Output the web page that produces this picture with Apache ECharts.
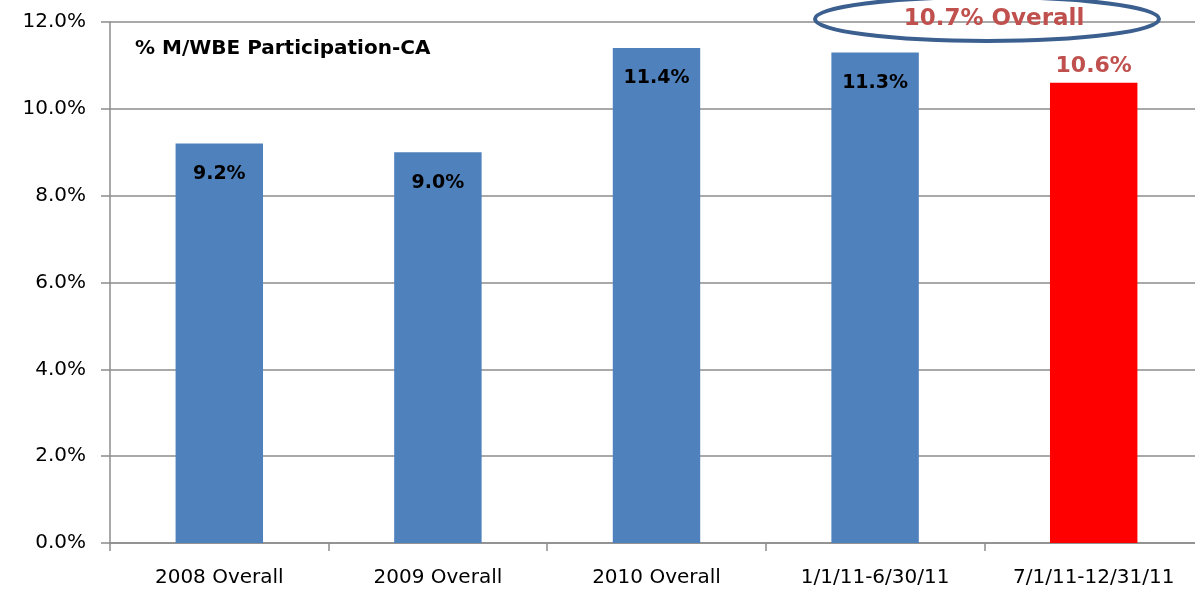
<!DOCTYPE html>
<html>
<head>
<meta charset="utf-8">
<title>% M/WBE Participation-CA</title>
<script src="https://cdn.jsdelivr.net/npm/echarts@6/dist/echarts.min.js"></script>
<style>
  html, body { margin: 0; padding: 0; background: #fff; }
  #chart { width: 1195px; height: 595px; }
</style>
</head>
<body>
<div id="chart"></div>
<script>
// data
const categories = ['2008 Overall', '2009 Overall', '2010 Overall', '1/1/11-6/30/11', '7/1/11-12/31/11']
const participation = [9.2, 9.0, 11.4, 11.3, 10.6]
const highlightIndex = 4
const overallText = '10.7% Overall'
const chartTitle = '% M/WBE Participation-CA'

const blue = '#4F81BD'
const red = '#FF0000'
const redText = '#C0504D'
const font = '"DejaVu Sans", sans-serif'

const chart = echarts.init(document.getElementById('chart'))

const barData = participation.map((v, i) => {
  if (i !== highlightIndex) return v
  return {
    value: v,
    itemStyle: { color: red },
    label: {
      position: 'top',
      distance: 6,
      color: redText,
      fontSize: 22
    }
  }
})

chart.setOption({
  animation: false,
  textStyle: { fontFamily: font },
  grid: {
    left: 110,
    top: 22,
    width: 1093,
    height: 521,
    outerBoundsMode: 'none'
  },
  xAxis: {
    type: 'category',
    data: categories,
    axisLine: { lineStyle: { color: '#8C8C8C', width: 1.5 } },
    axisTick: { show: true, length: 8, lineStyle: { color: '#8C8C8C', width: 1.5 } },
    axisLabel: { color: '#000', fontSize: 20, margin: 25, fontFamily: font }
  },
  yAxis: {
    type: 'value',
    min: 0,
    max: 12,
    interval: 2,
    axisLine: { show: true, lineStyle: { color: '#8C8C8C', width: 1.5 } },
    axisTick: { show: true, length: 9, lineStyle: { color: '#8C8C8C', width: 1.5 } },
    axisLabel: {
      color: '#000',
      fontSize: 20,
      margin: 24,
      fontFamily: font,
      formatter: v => v.toFixed(1) + '%'
    },
    splitLine: { lineStyle: { color: '#8C8C8C', width: 1.5 } }
  },
  series: [
    {
      type: 'bar',
      data: barData,
      barWidth: '40%',
      itemStyle: { color: blue },
      label: {
        show: true,
        position: 'insideTop',
        distance: 21,
        color: '#000',
        fontWeight: 'bold',
        fontSize: 19,
        fontFamily: font,
        formatter: p => p.value.toFixed(1) + '%'
      }
    }
  ],
  graphic: [
    {
      type: 'text',
      left: 135,
      top: 39,
      style: {
        text: chartTitle,
        fill: '#000',
        font: 'bold 20px ' + font
      }
    },
    {
      type: 'ellipse',
      shape: { cx: 987, cy: 19, rx: 172, ry: 22 },
      style: { fill: 'none', stroke: '#3B5F8E', lineWidth: 4 },
      z: 10
    },
    {
      type: 'text',
      x: 994,
      y: 19,
      style: {
        text: overallText,
        fill: redText,
        font: 'bold 23px ' + font,
        align: 'center',
        verticalAlign: 'middle'
      },
      z: 11
    }
  ]
})
</script>
</body>
</html>
